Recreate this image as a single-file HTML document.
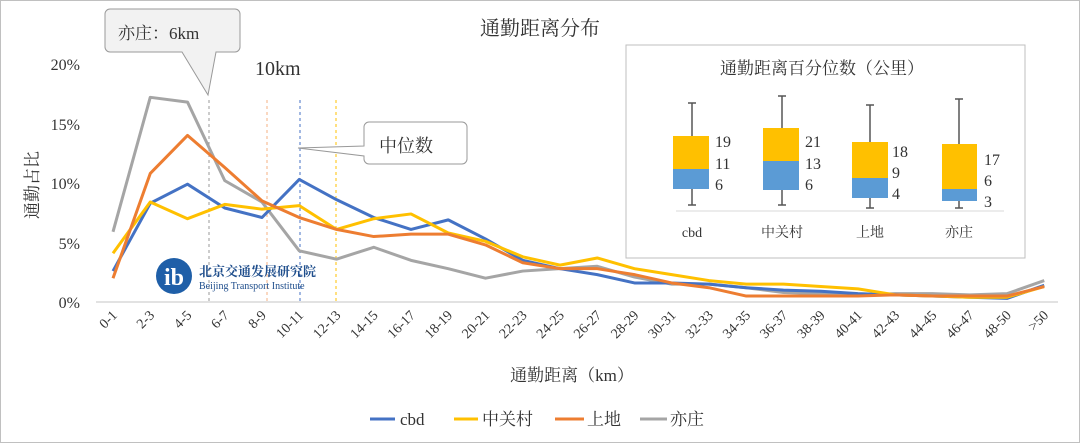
<!DOCTYPE html>
<html><head><meta charset="utf-8"><style>
body{margin:0;background:#fff}
svg{display:block}
text{font-family:"Liberation Serif","Noto Serif CJK SC",serif;fill:#333}
</style></head><body>
<svg width="1080" height="443" viewBox="0 0 1080 443" xmlns="http://www.w3.org/2000/svg">
<rect x="0.5" y="0.5" width="1079" height="442" fill="#fff" stroke="#c0c0c0"/>
<text x="540" y="35" font-size="20" text-anchor="middle">通勤距离分布</text>
<g font-size="16" text-anchor="end">
<text x="80" y="70">20%</text><text x="80" y="130">15%</text><text x="80" y="189">10%</text><text x="80" y="249">5%</text><text x="80" y="308">0%</text>
</g>
<text transform="translate(38,185) rotate(-90)" font-size="17" text-anchor="middle">通勤占比</text>
<line x1="96" y1="302" x2="1058" y2="302" stroke="#d9d9d9" stroke-width="1.5"/>
<g stroke-dasharray="3,3" stroke-width="1">
<line x1="209" y1="100" x2="209" y2="302" stroke="#999"/>
<line x1="267" y1="100" x2="267" y2="302" stroke="#f4b183"/>
<line x1="300" y1="100" x2="300" y2="302" stroke="#4472c4"/>
<line x1="336" y1="100" x2="336" y2="302" stroke="#ffc000"/>
</g>
<g id="lines" fill="none" stroke-width="3" stroke-linejoin="round"></g>
<g id="xl" font-size="14"></g>
<text x="572" y="381" font-size="17" text-anchor="middle">通勤距离（km）</text>
<g font-size="17" font-family="Liberation Sans,Noto Sans CJK SC,sans-serif">
<line x1="370" y1="419" x2="395" y2="419" stroke="#4472c4" stroke-width="3"/><text x="400" y="425">cbd</text>
<line x1="454" y1="419" x2="478" y2="419" stroke="#ffc000" stroke-width="3"/><text x="482" y="425">中关村</text>
<line x1="555" y1="419" x2="584" y2="419" stroke="#ed7d31" stroke-width="3"/><text x="587" y="425">上地</text>
<line x1="640" y1="419" x2="667" y2="419" stroke="#a5a5a5" stroke-width="3"/><text x="670" y="425">亦庄</text>
</g>
<!-- logo -->
<circle cx="174" cy="276" r="18" fill="#1f5fa8"/>
<text x="174" y="285" font-size="24" text-anchor="middle" font-weight="bold" style="fill:#fff">ib</text>
<text x="199" y="276" font-size="13" font-weight="bold" font-family="Noto Sans CJK SC,sans-serif" style="fill:#1f4e8c">北京交通发展研究院</text>
<text x="199" y="289" font-size="10" font-family="Liberation Sans,sans-serif" style="fill:#1f4e8c">Beijing Transport Institute</text>
<!-- callouts -->
<path d="M110,9 H235 a5,5 0 0 1 5,5 V47 a5,5 0 0 1 -5,5 H216 L208,95 L182,52 H110 a5,5 0 0 1 -5,-5 V14 a5,5 0 0 1 5,-5 Z" fill="#f2f2f2" stroke="#999"/>
<text x="118" y="39" font-size="17">亦庄：6km</text>
<text x="255" y="75" font-size="20">10km</text>
<path d="M369,122 H462 a5,5 0 0 1 5,5 V159 a5,5 0 0 1 -5,5 H369 a5,5 0 0 1 -5,-5 V156 L298,148 L364,146 V127 a5,5 0 0 1 5,-5 Z" fill="#fff" stroke="#999"/>
<text x="379" y="152" font-size="18">中位数</text>
<!-- inset -->
<rect x="626" y="45" width="399" height="213" fill="#fff" stroke="#bfbfbf"/>
<text x="822" y="74" font-size="17" text-anchor="middle">通勤距离百分位数（公里）</text>
<line x1="676" y1="211" x2="1004" y2="211" stroke="#d9d9d9"/>
<g stroke="#555" stroke-width="1.5">
<line x1="692" y1="103" x2="692" y2="205"/><line x1="688" y1="103" x2="696" y2="103"/><line x1="688" y1="205" x2="696" y2="205"/>
<line x1="782" y1="96" x2="782" y2="205"/><line x1="778" y1="96" x2="786" y2="96"/><line x1="778" y1="205" x2="786" y2="205"/>
<line x1="870" y1="105" x2="870" y2="208"/><line x1="866" y1="105" x2="874" y2="105"/><line x1="866" y1="208" x2="874" y2="208"/>
<line x1="959" y1="99" x2="959" y2="208"/><line x1="955" y1="99" x2="963" y2="99"/><line x1="955" y1="208" x2="963" y2="208"/>
</g>
<rect x="673" y="136" width="36" height="33" fill="#ffc000"/><rect x="673" y="169" width="36" height="20" fill="#5b9bd5"/>
<rect x="763" y="128" width="36" height="33" fill="#ffc000"/><rect x="763" y="161" width="36" height="29" fill="#5b9bd5"/>
<rect x="852" y="142" width="36" height="36" fill="#ffc000"/><rect x="852" y="178" width="36" height="20" fill="#5b9bd5"/>
<rect x="942" y="144" width="35" height="45" fill="#ffc000"/><rect x="942" y="189" width="35" height="12" fill="#5b9bd5"/>
<g font-size="16">
<text x="715" y="147">19</text><text x="715" y="169">11</text><text x="715" y="190">6</text>
<text x="805" y="147">21</text><text x="805" y="169">13</text><text x="805" y="190">6</text>
<text x="892" y="157">18</text><text x="892" y="178">9</text><text x="892" y="199">4</text>
<text x="984" y="165">17</text><text x="984" y="186">6</text><text x="984" y="207">3</text>
</g>
<g font-size="14" text-anchor="middle" font-family="Liberation Sans,Noto Sans CJK SC,sans-serif">
<text x="692" y="237">cbd</text><text x="782" y="237">中关村</text><text x="870" y="237">上地</text><text x="959" y="237">亦庄</text>
</g>
</svg>
<script>
var labels=["0-1","2-3","4-5","6-7","8-9","10-11","12-13","14-15","16-17","18-19","20-21","22-23","24-25","26-27","28-29","30-31","32-33","34-35","36-37","38-39","40-41","42-43","44-45","46-47","48-50",">50"];
var d={"#a5a5a5":[5.9,17.2,16.8,10.2,8.4,4.3,3.6,4.6,3.5,2.8,2.0,2.6,2.8,3.0,2.1,1.5,1.5,1.2,0.8,0.7,0.6,0.7,0.7,0.6,0.7,1.8],
"#ffc000":[4.1,8.4,7.0,8.2,7.8,8.1,6.1,7.0,7.4,5.8,5.1,3.8,3.1,3.7,2.8,2.3,1.8,1.5,1.5,1.3,1.1,0.6,0.5,0.4,0.4,1.3],
"#ed7d31":[2.0,10.8,14.0,11.3,8.5,7.1,6.1,5.5,5.7,5.7,4.8,3.3,2.8,2.8,2.3,1.6,1.2,0.5,0.5,0.5,0.5,0.6,0.5,0.5,0.5,1.3],
"#4472c4":[2.6,8.3,9.9,7.9,7.1,10.3,8.6,7.1,6.1,6.9,5.3,3.5,2.8,2.3,1.6,1.6,1.5,1.2,1.0,0.9,0.7,0.6,0.5,0.4,0.3,1.4]};
var ns="http://www.w3.org/2000/svg",g=document.getElementById("lines"),xl=document.getElementById("xl");
function X(i){return 113+i*37.25}
["#a5a5a5","#4472c4","#ffc000","#ed7d31"].forEach(function(c){
var p=document.createElementNS(ns,"polyline");
p.setAttribute("points",d[c].map(function(v,i){return X(i)+","+(302-11.9*v)}).join(" "));
p.setAttribute("stroke",c);g.appendChild(p);});
labels.forEach(function(l,i){var t=document.createElementNS(ns,"text");
t.setAttribute("transform","translate("+(X(i)+5)+",316) rotate(-45)");
t.setAttribute("text-anchor","end");t.textContent=l;xl.appendChild(t);});
</script>
</body></html>
